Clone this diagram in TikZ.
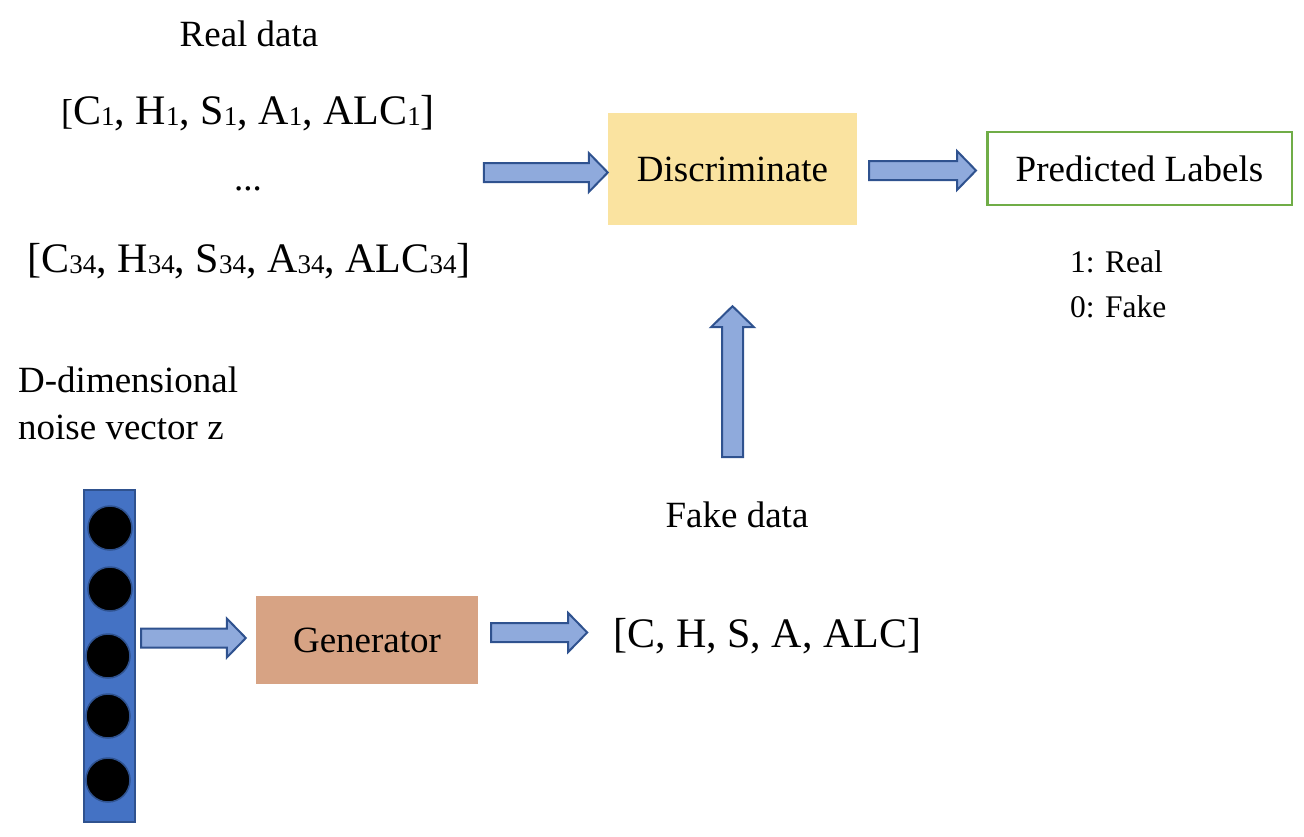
\documentclass[tikz,border=0pt]{standalone}
\usepackage{fontspec}
\setmainfont{Liberation Serif}
\usetikzlibrary{calc}
\definecolor{arrowfill}{HTML}{8FAADC}
\definecolor{arrowline}{HTML}{2F528F}
\definecolor{discfill}{HTML}{FAE3A0}
\definecolor{genfill}{HTML}{D7A384}
\definecolor{predline}{HTML}{70AD47}
\definecolor{vecfill}{HTML}{4472C4}
\newcommand{\subdig}[1]{\raisebox{-1pt}{\fontsize{27}{27}\selectfont #1}}
\begin{document}
\begin{tikzpicture}[x=1pt,y=-1pt,
  txt/.style={inner sep=0pt, font=\fontsize{37}{44}\selectfont},
  bigtxt/.style={inner sep=0pt, font=\fontsize{42}{50}\selectfont},
  smalltxt/.style={inner sep=0pt, font=\fontsize{31.5}{38}\selectfont},
  boxnode/.style={txt, minimum width=#1},
  harrow/.style={draw=arrowline, fill=arrowfill, line width=2pt, line join=miter,
    to path={let \p1=(\tikztostart), \p2=(\tikztotarget) in
      (\x1,\y1+9.5pt) -- (\x2-19pt,\y1+9.5pt) -- (\x2-19pt,\y1+19.5pt) -- (\x2,\y1)
      -- (\x2-19pt,\y1-19.5pt) -- (\x2-19pt,\y1-9.5pt) -- (\x1,\y1-9.5pt) -- cycle}},
  varrow/.style={draw=arrowline, fill=arrowfill, line width=2pt, line join=miter,
    to path={let \p1=(\tikztostart), \p2=(\tikztotarget) in
      (\x1-10.5pt,\y1) -- (\x1-10.5pt,\y2-21pt) -- (\x1-21.5pt,\y2-21pt) -- (\x1,\y2)
      -- (\x1+21.5pt,\y2-21pt) -- (\x1+10.5pt,\y2-21pt) -- (\x1+10.5pt,\y1) -- cycle}},
  neuron/.style={circle, fill=black, draw=arrowline, line width=1.5pt, minimum size=44pt, inner sep=0pt}
]
\useasboundingbox (0,0) rectangle (1304,836);

% real data
\node[txt, anchor=base] (realtitle) at (249,46) {Real data};
\node[bigtxt, anchor=base] (row1) at (248,124) {{\fontsize{36}{36}\selectfont[}C\subdig{1}, H\subdig{1}, S\subdig{1}, A\subdig{1}, ALC\subdig{1}]};
\node[txt, anchor=base] (dots) at (248,190) {...};
\node[bigtxt, anchor=base] (row2) at (249,272) {[C\subdig{34}, H\subdig{34}, S\subdig{34}, A\subdig{34}, ALC\subdig{34}]};

% discriminator
\node[txt, fill=discfill, minimum width=249pt, minimum height=112pt] (disc) at (732.5,169) {Discriminate};
\node[txt, draw=predline, line width=2.5pt, minimum width=304.5pt, minimum height=73pt] (pred) at (1139.5,168.5) {Predicted Labels};
\node[smalltxt, anchor=base west] (lab1) at (1070,272) {1: Real};
\node[smalltxt, anchor=base west] (lab0) at (1070,317) {0: Fake};

% noise
\node[txt, anchor=base west] (dim1) at (18,392) {D-dimensional};
\node[txt, anchor=base west] (dim2) at (18,439) {noise vector z};
\node[draw=arrowline, fill=vecfill, line width=2pt, minimum width=51pt, minimum height=332pt, inner sep=0pt] (noise) at (109.5,656) {};
\node[neuron] (c1) at (110,528) {};
\node[neuron] (c2) at (110,589) {};
\node[neuron] (c3) at (108,656) {};
\node[neuron] (c4) at (108,716) {};
\node[neuron] (c5) at (108,780) {};

% generator
\node[txt, fill=genfill, minimum width=222pt, minimum height=88pt] (gen) at (367,640) {Generator};
\node[bigtxt, anchor=base west] (fakevec) at (613,647) {[C, H, S, A, ALC]};
\node[txt, anchor=base] (fakelbl) at (737,527) {Fake data};

% arrows
\draw[harrow] ([xshift=-124pt,yshift=-3.5pt]disc.west) to ([yshift=-3.5pt]disc.west);
\draw[harrow] ([xshift=12pt,yshift=-1.5pt]disc.east) to ([xshift=-10pt]pred.west);
\draw[harrow] ($(noise.east |- gen.west)+(5,-2)$) to ([xshift=-10pt,yshift=2pt]gen.west);
\draw[harrow] ([xshift=13pt,yshift=7.5pt]gen.east) to ([xshift=109pt,yshift=7.5pt]gen.east);
\draw[varrow] ([yshift=-232pt]disc.south) to ([yshift=-81pt]disc.south);
\end{tikzpicture}
\end{document}
